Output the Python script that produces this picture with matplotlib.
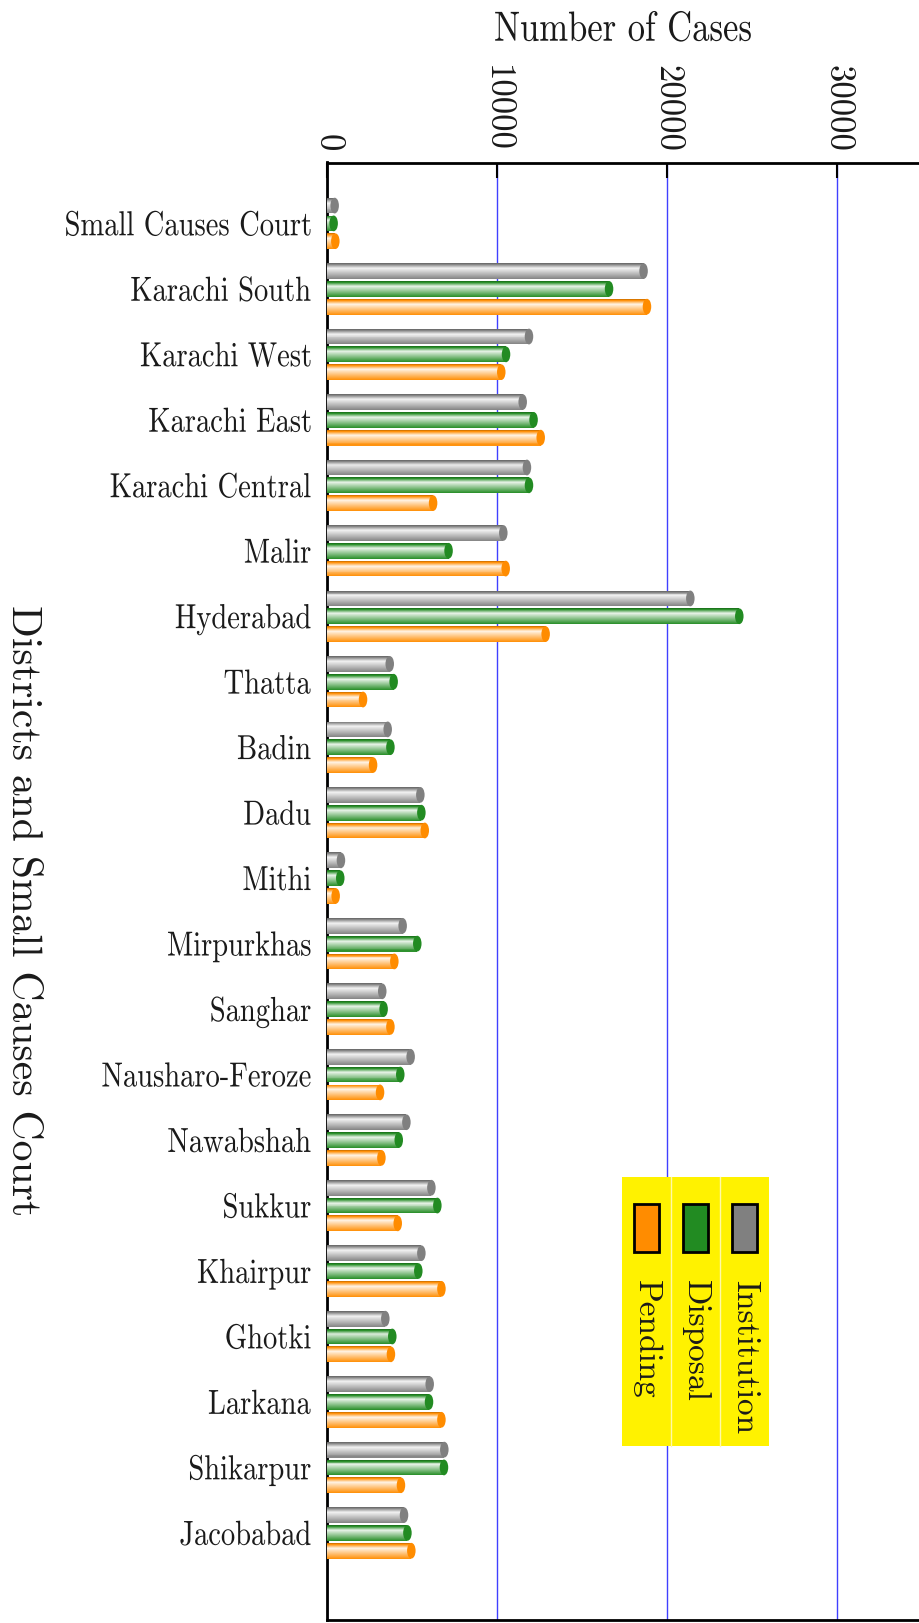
import matplotlib.pyplot as plt
import numpy as np
from matplotlib.patches import Ellipse, Rectangle, PathPatch
from matplotlib.colors import to_rgb
from matplotlib.textpath import TextPath
from matplotlib.font_manager import FontProperties
from matplotlib.transforms import Affine2D, ScaledTranslation

districts = ["Small Causes Court", "Karachi South", "Karachi West", "Karachi East",
             "Karachi Central", "Malir", "Hyderabad", "Thatta", "Badin", "Dadu",
             "Mithi", "Mirpurkhas", "Sanghar", "Nausharo-Feroze", "Nawabshah",
             "Sukkur", "Khairpur", "Ghotki", "Larkana", "Shikarpur", "Jacobabad"]
institution = [450, 18620, 11880, 11510, 11760, 10370, 21370, 3690, 3570, 5490,
               820, 4450, 3250, 4920, 4670, 6140, 5550, 3430, 6040, 6900, 4530]
disposal = [390, 16590, 10530, 12150, 11880, 7150, 24250, 3920, 3730, 5550,
            780, 5310, 3330, 4310, 4220, 6490, 5370, 3840, 6000, 6880, 4730]
pending = [490, 18820, 10250, 12570, 6240, 10510, 12860, 2120, 2710, 5750,
           510, 3960, 3730, 3120, 3200, 4160, 6730, 3760, 6730, 4350, 4960]

series = ["Institution", "Disposal", "Pending"]
colors = ["#808080", "#228b22", "#ff8c00"]

plt.rcParams['font.family'] = ['cmr10', 'DejaVu Serif']
plt.rcParams['mathtext.fontset'] = 'cm'
plt.rcParams['axes.unicode_minus'] = False
txt_color = '#1a1a1a'

W, H = 919, 1623
fig = plt.figure(figsize=(W / 100, H / 100), dpi=100)
ax = fig.add_axes([327 / W, 1 - 1620 / H, 1 - 327 / W, (1620 - 162.5) / H])

y = np.arange(len(districts))
bar_h = 0.24
step = 0.272
nstripe = 16


def shade(base, t):
    c = np.array(to_rgb(base))
    if t < 0.08:
        return tuple(c * 0.85)
    if t < 0.32:
        m = 0.88 * (t - 0.08) / 0.24
    else:
        m = 0.88 * (1 - (t - 0.32) / 0.68) + 0.02
    return tuple(c + (1 - c) * m)


# the horizontal text in the original is a narrow, tall serif; squeeze cmr10 to match
fp = FontProperties(family='cmr10')


def squeezed_text(s, x, y0, trans, em, sx, ha, xoff=0, yoff=0, center_caps=False):
    tp = TextPath((0, 0), s, size=em, prop=fp)
    bb = tp.get_extents()
    if ha == 'right':
        dx = -bb.x1 * sx
    else:
        dx = -(bb.x0 + bb.x1) / 2 * sx
    dy = -0.683 * em / 2 if center_caps else 0
    t = Affine2D().scale(sx, 1).translate(dx + xoff, dy + yoff) + ScaledTranslation(x, y0, trans)
    fig.add_artist(PathPatch(tp, transform=t, facecolor=txt_color, edgecolor='none', lw=0))


for k, (vals, col) in enumerate(zip([institution, disposal, pending], colors)):
    yc = y + (k - 1) * step
    for s in range(nstripe):
        t = (s + 0.5) / nstripe
        ax.barh(yc - bar_h / 2 + t * bar_h, vals, height=bar_h / nstripe * 1.05,
                color=shade(col, t), linewidth=0, zorder=3)
    for v, yy in zip(vals, yc):
        ax.add_patch(Ellipse((v, yy), width=500, height=bar_h, facecolor=col,
                             edgecolor='none', zorder=4))

ax.set_xlim(0, 34820)
ax.set_ylim(len(districts) - 1 + 1.33, -0.93)

ax.xaxis.tick_top()
ax.set_xticks([0, 10000, 20000, 30000])
ax.set_xticklabels(["0", "10000", "20000", "30000"], rotation=-90, color=txt_color)
ax.tick_params(axis='x', direction='in', length=11, width=1.5, labelsize=25, pad=8)
ax.set_yticks([])

for name, yy in zip(districts, y):
    squeezed_text(name, 0, yy, ax.transData, 34.8, 0.82, 'right', xoff=-16.5,
                  center_caps=True)
squeezed_text("Number of Cases", 0.5, 1, ax.transAxes, 42.2, 0.82, 'center', yoff=121.8)

ax.grid(axis='x', color='#4040ff', linewidth=1, zorder=0)
ax.set_axisbelow(True)
for side in ['left', 'top', 'bottom']:
    ax.spines[side].set_linewidth(2)
ax.spines['right'].set_visible(False)

fig.text(23 / W, 1 - 911 / H, "Districts and Small Causes Court", rotation=-90,
         fontsize=30, ha='center', va='center', color=txt_color)

# legend, turned on its side like the rest of the page
lx0, lx1, ly0, ly1 = 622, 769, 1177, 1446
fig.patches.append(Rectangle((lx0 / W, 1 - ly1 / H), (lx1 - lx0) / W, (ly1 - ly0) / H,
                             transform=fig.transFigure, facecolor='#fff200',
                             edgecolor='none', zorder=5))
col_w = (lx1 - lx0) / 3
for i, (name, col) in enumerate(zip(series[::-1], colors[::-1])):
    cx = lx0 + col_w * (i + 0.5)
    fig.patches.append(Rectangle(((cx - 12.5) / W, 1 - 1252 / H), 25 / W, 48 / H,
                                 transform=fig.transFigure, facecolor=col,
                                 edgecolor='black', linewidth=2, zorder=6))
    fig.text(cx / W, 1 - 1280 / H, name, rotation=-90, fontsize=24,
             ha='center', va='top', zorder=7, color=txt_color)
    if i > 0:
        xx = lx0 + col_w * i
        fig.lines.append(plt.Line2D([xx / W, xx / W], [1 - ly1 / H, 1 - ly0 / H],
                                    transform=fig.transFigure, color='#fff9a8',
                                    linewidth=1, zorder=6))

fig.savefig("out.png", dpi=100)
